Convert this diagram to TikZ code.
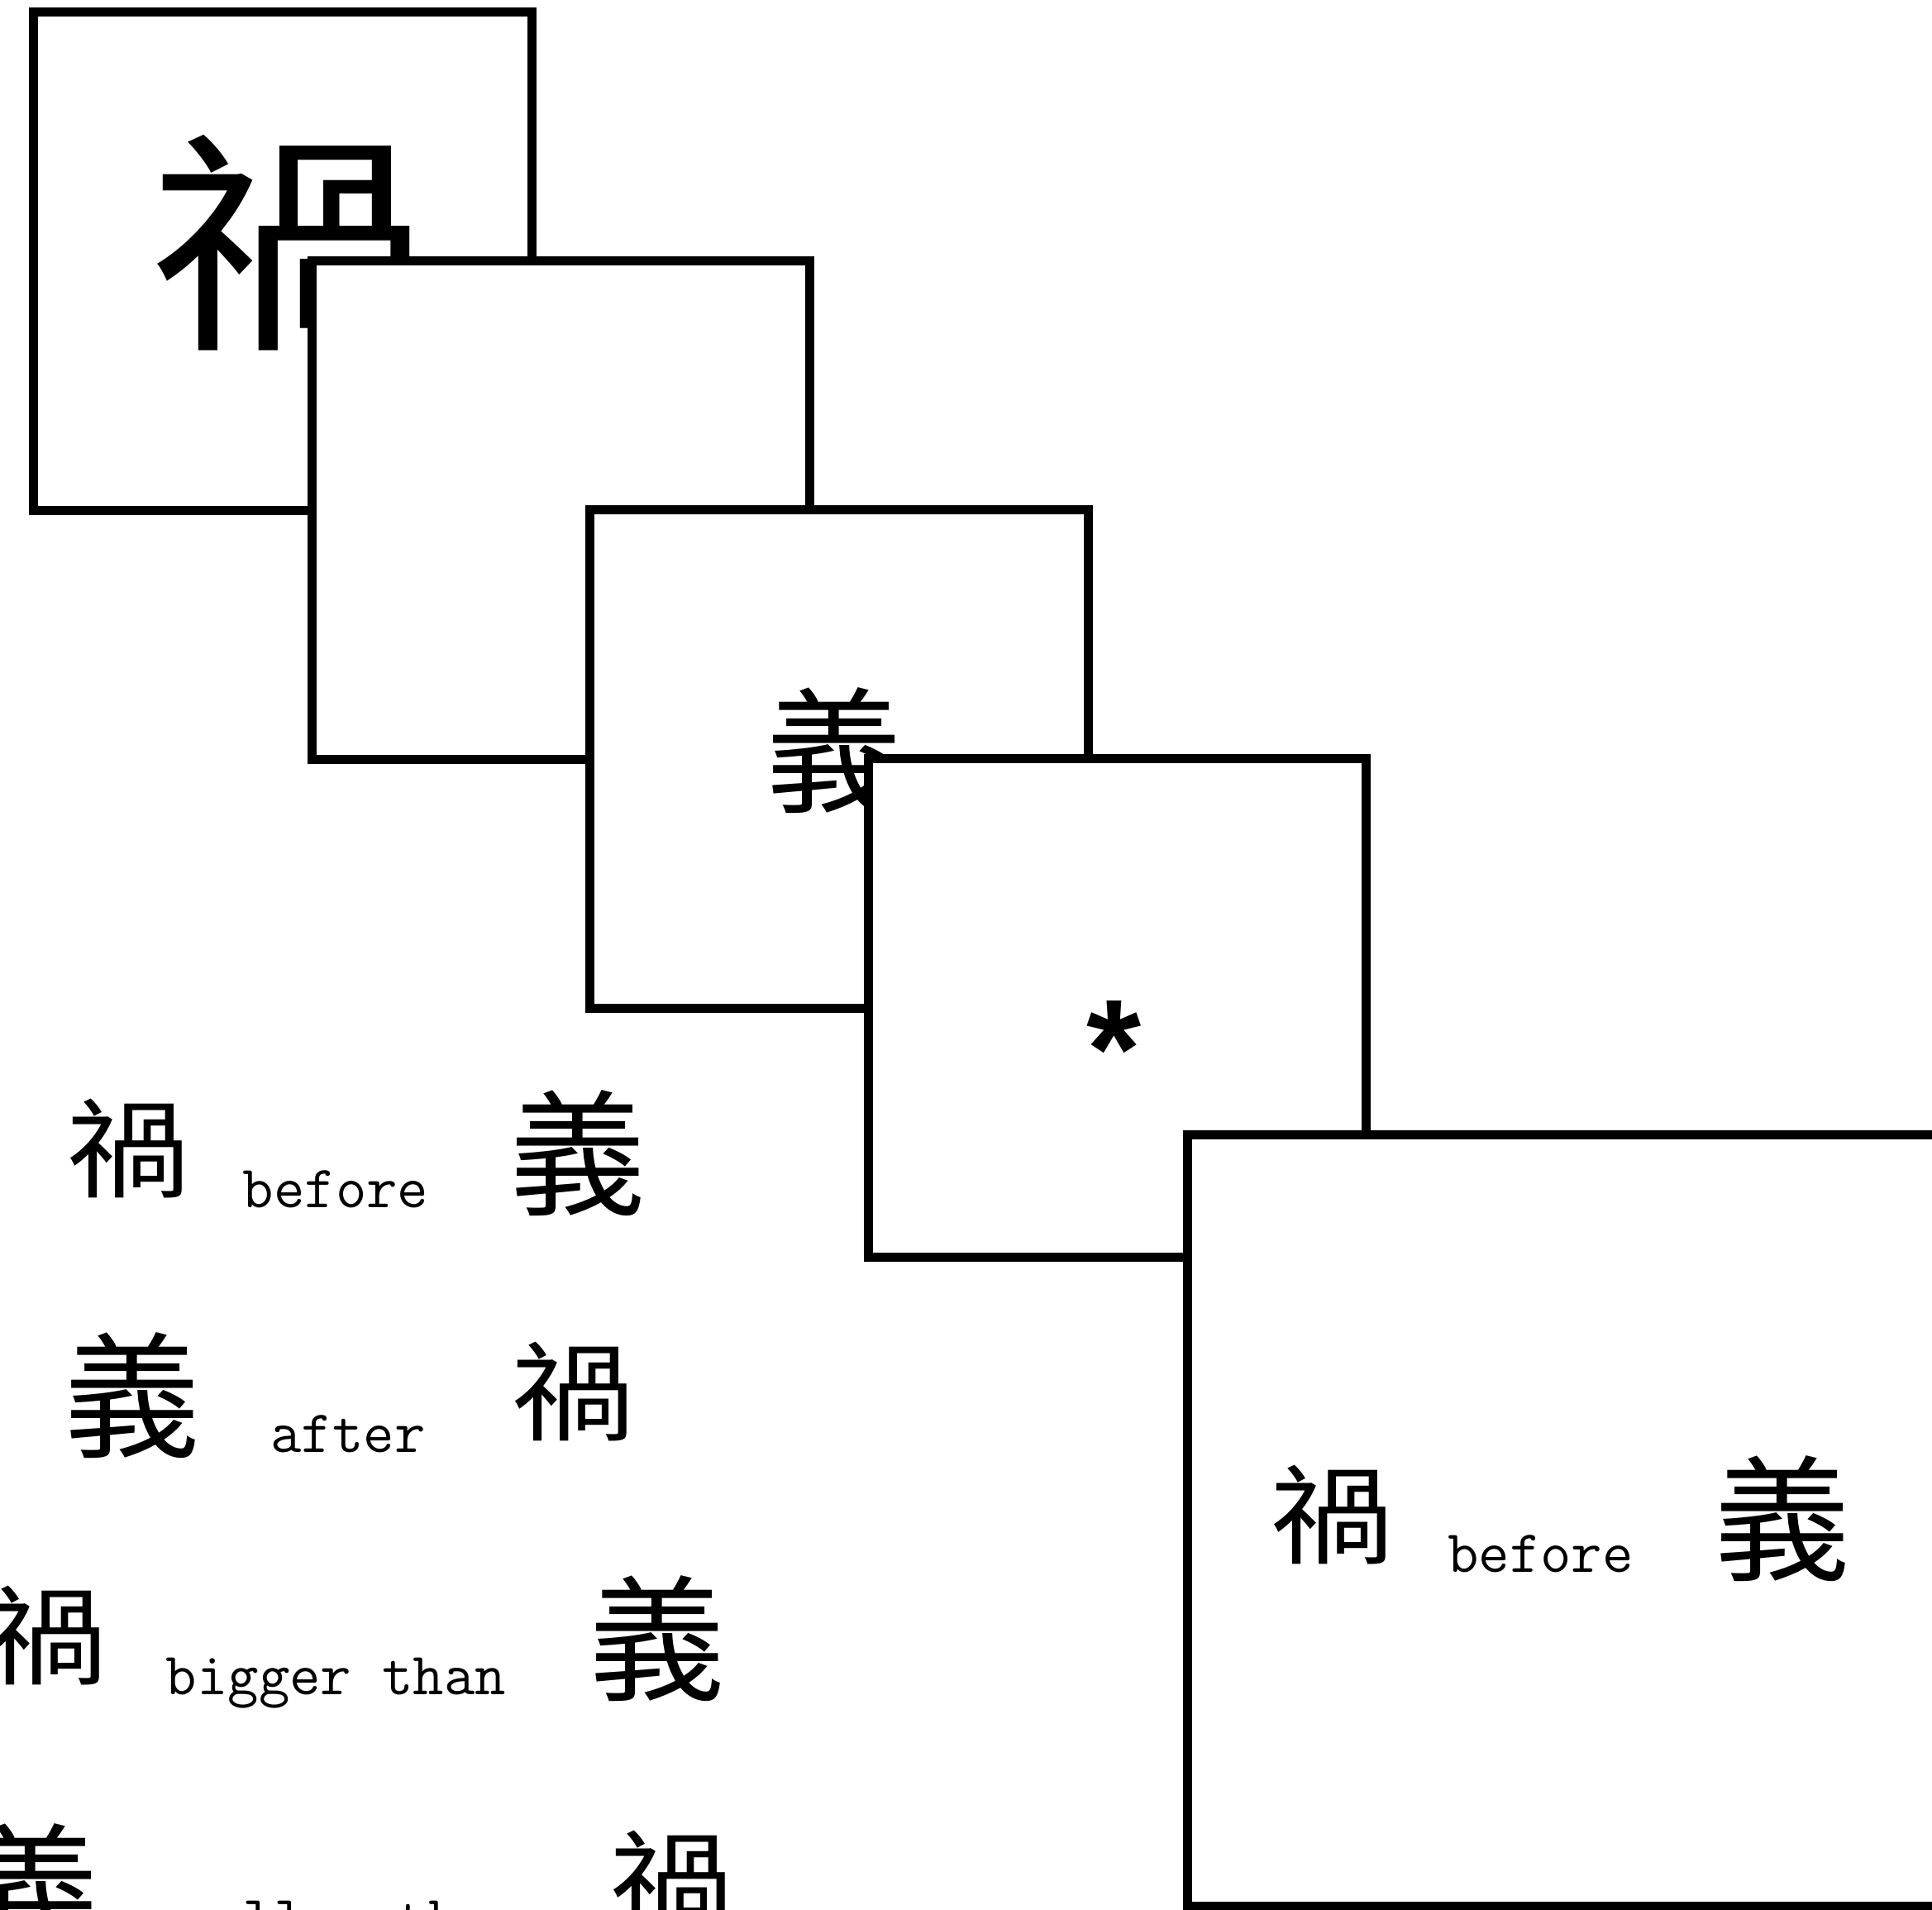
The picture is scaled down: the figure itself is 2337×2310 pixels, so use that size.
\documentclass[tikz,border=0pt]{standalone}
\usepackage{graphicx}
\usepackage{fontspec}
\newfontfamily\cjk{Noto Sans CJK TC}
\newfontfamily\astf{Liberation Sans}
\newcommand\HuoSmall{\fontsize{135bp}{135bp}\selectfont\scalebox{1.1}[0.97]{禍}}
\newcommand\HuoBig{\fontsize{300bp}{300bp}\selectfont\scalebox{1.12}[0.95]{禍}}
\newcommand\YiSmall{\fontsize{165bp}{165bp}\selectfont 義}
\tikzset{
  card/.style={draw=black, line width=11bp, fill=white, inner sep=0pt,
    minimum width=602.5bp, minimum height=602.5bp},
  hanzi/.style={inner sep=0pt, font=\cjk},
  word/.style={inner sep=0pt, anchor=base, font=\ttfamily\fontsize{72.6bp}{72.6bp}\selectfont},
}
\begin{document}
\begin{tikzpicture}[x=1bp,y=-1bp]
\useasboundingbox (0,0) rectangle (2337,2310);
\fill[white] (0,0) rectangle (2337,2310);
\clip (0,0) rectangle (2337,2310);
% card 1
\node[card] (c1) at (341.75,315.75) {};
\node[hanzi] (c1g) at (347.5,294) {\HuoBig};
% card 2
\node[card] (c2) at (678.35,616.75) {};
% card 3
\node[card] (c3) at (1014.95,917.75) {};
\node[hanzi] (c3g) at (1009,907.5) {\YiSmall};
% card 4
\node[card] (c4) at (1351.55,1218.75) {};
\node[inner sep=0pt, anchor=base, font=\astf\bfseries\fontsize{170bp}{170bp}\selectfont] (ast) at (1347.5,1327.5) {*};
% card 5
\node[card, minimum width=944bp, minimum height=933.5bp] (c5) at (1908,1838.75) {};
\node[hanzi] (c5a) at (1610.5,1832) {\HuoSmall};
\node[word] (c5w) at (1863.5,1901) {before};
\node[hanzi] (c5b) at (2156,1836.5) {\YiSmall};
% rows of examples
\node[hanzi] (r1a) at (154.5,1388.5) {\HuoSmall};
\node[word] (r1w) at (406,1460) {before};
\node[hanzi] (r1b) at (698.5,1394.5) {\YiSmall};
\node[hanzi] (r2a) at (160,1688) {\YiSmall};
\node[word] (r2w) at (421,1756) {after};
\node[hanzi] (r2b) at (693,1683) {\HuoSmall};
\node[hanzi] (r3a) at (55,1977.5) {\HuoSmall};
\node[word] (r3w) at (406.5,2049) {bigger than};
\node[hanzi] (r3b) at (795,1982) {\YiSmall};
\node[hanzi] (r4a) at (37,2281.5) {\YiSmall};
\node[word] (r4w) at (406,2343.5) {smaller than};
\node[hanzi] (r4b) at (812,2273.5) {\HuoSmall};
\end{tikzpicture}
\end{document}
